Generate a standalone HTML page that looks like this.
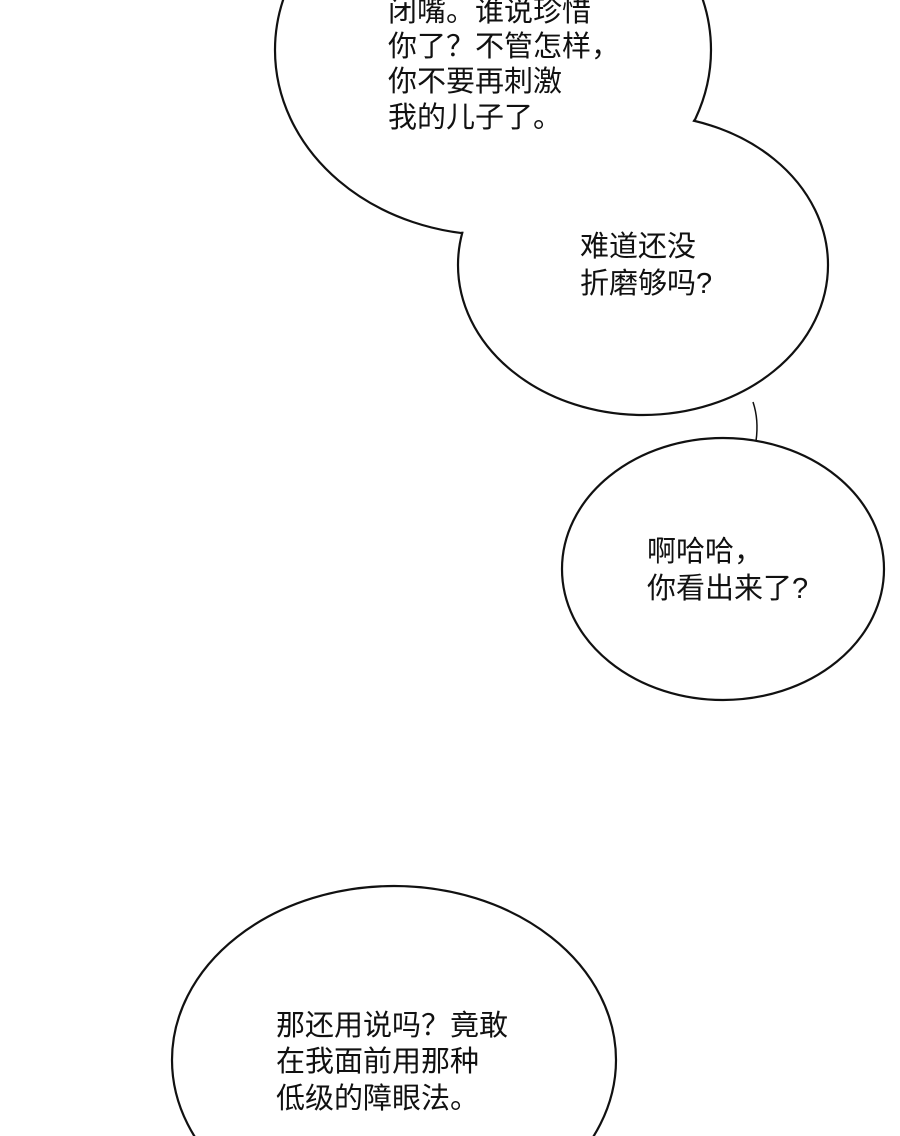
<!DOCTYPE html>
<html><head><meta charset="utf-8"><style>
html,body{margin:0;padding:0;background:#fff;width:900px;height:1136px;overflow:hidden}
svg{display:block}
svg text{font-family:"Liberation Sans","Noto Sans CJK SC",sans-serif;font-size:29px;fill:#111}
</style></head><body>
<svg width="900" height="1136" viewBox="0 0 900 1136" xmlns="http://www.w3.org/2000/svg">
<g fill="#fff" stroke="#111" stroke-width="2.2">
<ellipse cx="493" cy="50" rx="218" ry="185"/>
<ellipse cx="643" cy="265" rx="185" ry="150"/>
</g>
<g fill="#fff" stroke="none">
<ellipse cx="493" cy="50" rx="216.5" ry="183.5"/>
<ellipse cx="643" cy="265" rx="183.5" ry="148.5"/>
</g>
<path d="M753 402 Q759 420 756 441" fill="none" stroke="#111" stroke-width="1.5"/>
<ellipse cx="723" cy="569" rx="161" ry="131" fill="#fff" stroke="#111" stroke-width="2.2"/>
<ellipse cx="394" cy="1060" rx="222" ry="174" fill="#fff" stroke="#111" stroke-width="2.2"/>
<text x="388" y="21">闭嘴。谁说珍惜</text>
<text x="388" y="56">你了？不管怎样，</text>
<text x="388" y="91">你不要再刺激</text>
<text x="388" y="127">我的儿子了。</text>
<text x="580" y="256">难道还没</text>
<text x="580" y="293">折磨够吗?</text>
<text x="647" y="561">啊哈哈，</text>
<text x="647" y="598">你看出来了?</text>
<text x="276" y="1035">那还用说吗？竟敢</text>
<text x="276" y="1071">在我面前用那种</text>
<text x="276" y="1108">低级的障眼法。</text>
</svg>
</body></html>
